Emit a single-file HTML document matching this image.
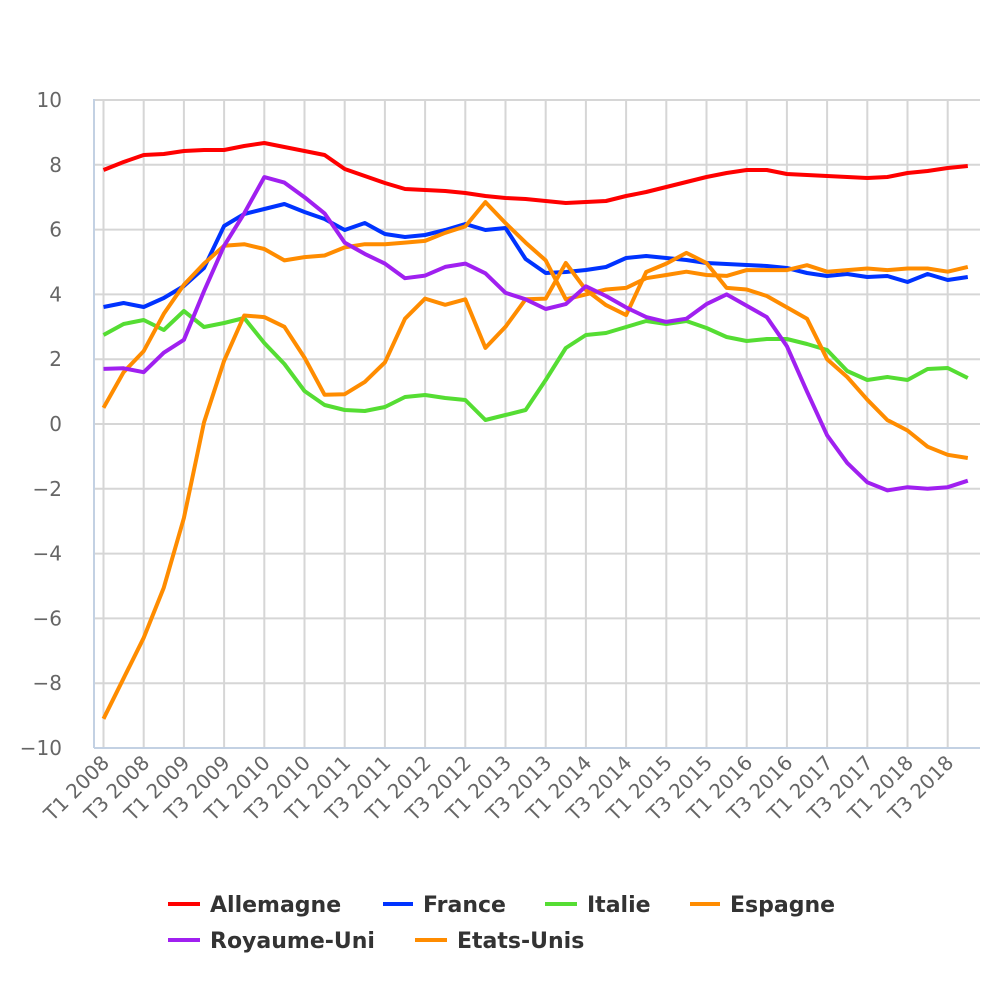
<!DOCTYPE html>
<html><head><meta charset="utf-8"><style>body{margin:0;background:#fff}svg{display:block}</style></head>
<body>
<svg id="s" width="1000" height="1000" xmlns="http://www.w3.org/2000/svg" font-family="DejaVu Sans, sans-serif">
<g id="grid"></g>
<line x1="94" y1="99" x2="94" y2="748" stroke="#c3d1e3" stroke-width="2"/>
<line x1="94" y1="748" x2="980" y2="748" stroke="#c3d1e3" stroke-width="2"/>
<g id="lines" fill="none" stroke-width="4" stroke-linejoin="round"></g>
<g id="labels" fill="#666" font-size="20"></g>
<g font-size="22" font-weight="bold" fill="#333">
<line x1="168" y1="904" x2="200" y2="904" stroke="#f00" stroke-width="4"/><text x="210" y="912">Allemagne</text>
<line x1="383" y1="904" x2="413" y2="904" stroke="#0033ff" stroke-width="4"/><text x="423" y="912">France</text>
<line x1="545" y1="904" x2="577" y2="904" stroke="#55dd33" stroke-width="4"/><text x="587" y="912">Italie</text>
<line x1="690" y1="904" x2="720" y2="904" stroke="#ff8c00" stroke-width="4"/><text x="730" y="912">Espagne</text>
<line x1="168" y1="940" x2="200" y2="940" stroke="#a020f0" stroke-width="4"/><text x="210" y="948">Royaume-Uni</text>
<line x1="415" y1="940" x2="447" y2="940" stroke="#ff8c00" stroke-width="4"/><text x="457" y="948">Etats-Unis</text>
</g>
</svg>
<script>
var NS="http://www.w3.org/2000/svg";
function el(t,a,p,txt){var e=document.createElementNS(NS,t);for(var k in a)e.setAttribute(k,a[k]);if(txt)e.textContent=txt;p.appendChild(e);return e;}
var g=document.getElementById('grid'),L=document.getElementById('lines'),lb=document.getElementById('labels');
function X(i){return 103.5+20.1*i;}
function Y(v){return 424-32.4*v;}
for(var v=-10;v<=10;v+=2){var y=Y(v);el('line',{x1:94,x2:980,y1:y,y2:y,stroke:'#d6d6d6','stroke-width':2},g);
 el('text',{x:62,y:y+7,'text-anchor':'end'},lb,(v<0?'\u2212'+(-v):''+v));}
for(var i=0;i<44;i+=2){var x=X(i);el('line',{x1:x,x2:x,y1:99,y2:748,stroke:'#d6d6d6','stroke-width':2},g);
 var yr=2008+Math.floor(i/4);var q=(i%4==0)?'T1':'T3';
 el('text',{x:x+7,y:764,'text-anchor':'end',transform:'rotate(-45 '+(x+7)+' 764)'},lb,q+' '+yr);}
function pathPx(arr,c){var d='';arr.forEach(function(y,i){d+=(i?'L':'M')+X(i).toFixed(1)+' '+y;});el('path',{d:d,stroke:c},L);}
function pathV(arr,c){pathPx(arr.map(function(v){return Y(v).toFixed(1);}),c);}
pathPx([170,162,155,154,151,150,150,146,143,147,151,155,169,176,183,189,190,191,193,196,198,199,201,203,202,201,196,192,187,182,177,173,170,170,174,175,176,177,178,177,173,171,168,166],'#f00');
pathPx([307,303,307,298,286,268,226,214,209,204,212,219,230,223,234,237,235,230,224,230,228,259,273,272,270,267,258,256,258,260,263,264,265,266,268,273,276,274,277,276,282,274,280,277],'#0033ff');
pathPx([335,324,320,330,311,327,323,318,343,364,391,405,410,411,407,397,395,398,400,420,415,410,380,348,335,333,327,321,324,321,328,337,341,339,339,344,350,371,380,377,380,369,368,378],'#55dd33');
pathV([0.5,1.6,2.25,3.4,4.3,4.95,5.5,5.55,5.4,5.05,5.15,5.2,5.45,5.55,5.55,5.6,5.65,5.9,6.1,6.85,6.2,5.6,5.05,3.85,4.0,4.15,4.2,4.5,4.6,4.7,4.6,4.57,4.75,4.75,4.75,4.9,4.7,4.75,4.8,4.75,4.8,4.8,4.7,4.85],'#ff8c00');
pathV([-9.1,-7.85,-6.6,-5.05,-2.9,0.05,1.95,3.35,3.3,3.0,2.05,0.9,0.92,1.3,1.9,3.25,3.87,3.68,3.85,2.35,3.0,3.85,3.87,4.97,4.14,3.67,3.36,4.69,4.95,5.28,4.97,4.2,4.15,3.95,3.6,3.25,2.0,1.45,0.75,0.12,-0.2,-0.7,-0.95,-1.05],'#ff8c00');
pathV([1.7,1.72,1.6,2.2,2.6,4.1,5.5,6.5,7.62,7.45,7.0,6.5,5.6,5.25,4.95,4.5,4.58,4.85,4.95,4.65,4.05,3.85,3.55,3.7,4.25,3.95,3.6,3.3,3.15,3.25,3.7,4.0,3.65,3.3,2.4,1.0,-0.35,-1.2,-1.8,-2.05,-1.95,-2.0,-1.95,-1.75],'#a020f0');
</script>
</body></html>
